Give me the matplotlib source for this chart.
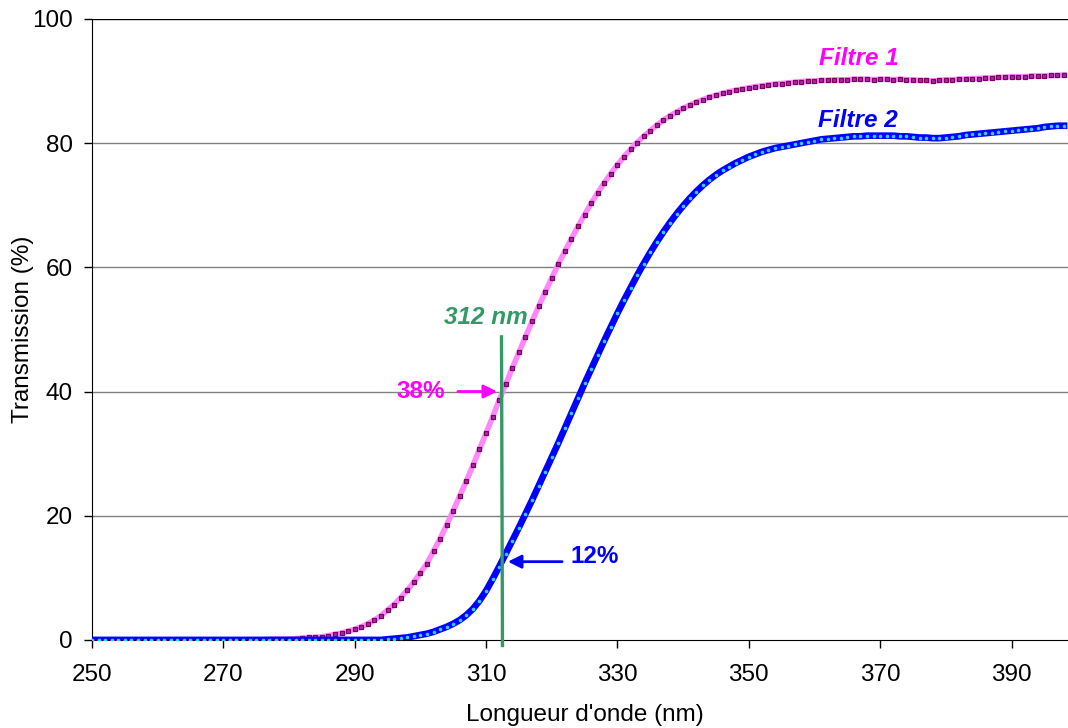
import matplotlib.pyplot as plt
import numpy as np

plt.rcParams['font.family'] = ['Liberation Sans', 'DejaVu Sans']

# wavelengths, 1 nm steps
wavelength = np.arange(250, 399)

filtre1 = [0.0] * 27 + [0.1, 0.1, 0.1, 0.1, 0.2, 0.3, 0.4, 0.4, 0.5,
    0.7, 0.9, 1.1, 1.4, 1.7, 2.1, 2.6, 3.2, 3.9, 4.8,
    5.7, 6.8, 8.0, 9.3, 10.8, 12.3, 14.3, 16.3, 18.5, 20.8,
    23.2, 25.6, 28.1, 30.7, 33.3, 35.9, 38.6, 41.2, 43.8, 46.3,
    48.8, 51.3, 53.7, 56.0, 58.3, 60.5, 62.6, 64.6, 66.6, 68.5,
    70.3, 72.0, 73.6, 75.1, 76.5, 77.8, 79.0, 80.1, 81.1, 82.0,
    82.9, 83.7, 84.4, 85.0, 85.6, 86.1, 86.6, 87.0, 87.4, 87.7,
    88.0, 88.3, 88.5, 88.7, 88.9, 89.1, 89.2, 89.4, 89.5, 89.6,
    89.7, 89.8, 89.9, 90.0, 90.0, 90.1, 90.1, 90.2, 90.2, 90.2,
    90.3, 90.3, 90.3, 90.2, 90.3, 90.3, 90.2, 90.3, 90.2, 90.2,
    90.1, 90.1, 90.0, 90.1, 90.2, 90.2, 90.3, 90.3, 90.4, 90.4,
    90.5, 90.5, 90.6, 90.6, 90.7, 90.7, 90.7, 90.8, 90.8, 90.8,
    90.9, 90.9, 91.0]

filtre2 = [0.0] * 45 + [0.1, 0.2, 0.3, 0.4, 0.6, 0.8, 1.0, 1.3, 1.7, 2.1,
    2.6, 3.2, 4.0, 5.0, 6.3, 7.9, 9.8, 11.8, 13.9, 16.0,
    18.1, 20.3, 22.5, 24.8, 27.1, 29.4, 31.7, 34.1, 36.5, 38.9,
    41.3, 43.6, 45.9, 48.2, 50.4, 52.6, 54.7, 56.7, 58.7, 60.6,
    62.4, 64.1, 65.7, 67.2, 68.6, 69.9, 71.1, 72.2, 73.2, 74.1,
    74.9, 75.6, 76.2, 76.8, 77.3, 77.8, 78.2, 78.6, 78.9, 79.2,
    79.4, 79.6, 79.8, 80.0, 80.2, 80.4, 80.6, 80.7, 80.8, 80.9,
    81.0, 81.1, 81.1, 81.2, 81.2, 81.2, 81.2, 81.2, 81.1, 81.1,
    81.0, 80.9, 80.9, 80.8, 80.8, 80.9, 81.0, 81.1, 81.3, 81.4,
    81.5, 81.6, 81.7, 81.8, 81.9, 82.0, 82.1, 82.2, 82.3, 82.4,
    82.6, 82.7, 82.8, 82.8]

xticks = [250, 270, 290, 310, 330, 350, 370, 390]
yticks = [0, 20, 40, 60, 80, 100]

fs = 17.5

fig = plt.figure(figsize=(10.68, 7.28), dpi=100)
ax = fig.add_axes([0.0861, 0.121, 0.9139, 0.853])

for y in yticks[1:-1]:
    ax.axhline(y, color='#808080', lw=1, zorder=0)
ax.axhline(100, color='black', lw=1, zorder=0)

ax.plot(wavelength, filtre1, color='#FF88FF', lw=4, marker='s', ms=3.5,
        mfc='#993399', mec='#800060', mew=0.9, zorder=3)
ax.plot(wavelength, filtre2, color='#0000FF', lw=4.8, marker='o', ms=2.6,
        mfc='#33CCFF', mec='#33CCFF', mew=0, zorder=3)

# 312 nm line
ax.plot([312.35, 312.5], [48.8, -0.9], color='#339966', lw=2.4, zorder=4, clip_on=False)
ax.text(310.0, 51.9, '312 nm', color='#339966', fontsize=fs, fontweight='bold',
        fontstyle='italic', ha='center', va='center')

ax.annotate('', xy=(312.1, 40), xytext=(305.3, 40),
            arrowprops=dict(arrowstyle='-|>', color='#FF00FF', lw=2, mutation_scale=20), zorder=5)
ax.text(303.8, 40, '38%', color='#FF00FF', fontsize=fs, fontweight='bold', ha='right', va='center')

ax.annotate('', xy=(312.9, 12.6), xytext=(322.0, 12.6),
            arrowprops=dict(arrowstyle='-|>', color='#0000FF', lw=2, mutation_scale=20), zorder=5)
ax.text(322.8, 13.4, '12%', color='#0000FF', fontsize=fs, fontweight='bold', ha='left', va='center')

ax.text(366.7, 93.7, 'Filtre 1', color='#FF00FF', fontsize=fs, fontweight='bold',
        fontstyle='italic', ha='center', va='center')
ax.text(366.6, 83.7, 'Filtre 2', color='#0000FF', fontsize=fs, fontweight='bold',
        fontstyle='italic', ha='center', va='center')

ax.set_xlim(250, 398.6)
ax.set_ylim(0, 100)
ax.set_xticks(xticks)
ax.set_yticks(yticks)
ax.tick_params(labelsize=fs, direction='out', length=6, width=1, colors='black')
ax.tick_params(axis='x', pad=11)
ax.tick_params(axis='y', pad=8)
ax.spines['top'].set_visible(False)
ax.spines['right'].set_visible(False)
ax.set_xlabel("Longueur d'onde (nm)", fontsize=fs, va='center')
ax.set_ylabel('Transmission (%)', fontsize=fs, va='center')
ax.xaxis.set_label_coords(0.505, -0.121)
ax.yaxis.set_label_coords(-0.0707, 0.5)

plt.savefig('out.png', dpi=100)
